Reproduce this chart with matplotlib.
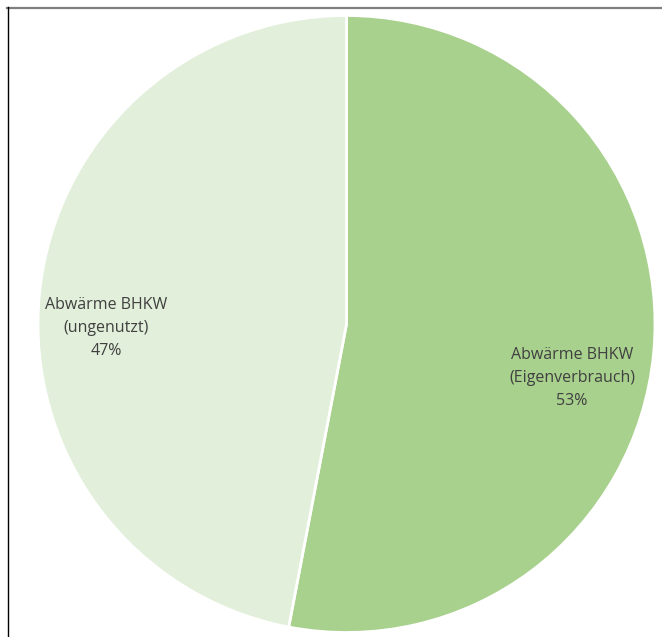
import matplotlib
matplotlib.use("Agg")
import matplotlib.pyplot as plt
from matplotlib.lines import Line2D

labels = ["Abwärme BHKW\n(Eigenverbrauch)", "Abwärme BHKW\n(ungenutzt)"]
shares = [53, 47]
colors = ["#A9D18E", "#E2EFDA"]
label_pos = [(0.731, -0.175), (-0.78, -0.013)]

W, H = 662, 637
fig = plt.figure(figsize=(W / 100, H / 100), dpi=100)
fig.patch.set_facecolor("white")

# pie area: radius 308.5 px, centred at (346.5, 324) from top-left
r_px, cx, cy = 308.5, 346.5, 324
ax = fig.add_axes([(cx - r_px) / W, (H - cy - r_px) / H, 2 * r_px / W, 2 * r_px / H])
ax.pie(shares, colors=colors, startangle=90, counterclock=False, radius=1,
       wedgeprops=dict(edgecolor="white", linewidth=2))
ax.set_xlim(-1, 1)
ax.set_ylim(-1, 1)
ax.set_aspect("equal")
ax.axis("off")

for lab, val, (x, y) in zip(labels, shares, label_pos):
    ax.text(x, y, f"{lab}\n{val}%", ha="center", va="center", fontsize=11.5,
            color="#404040", family="Open Sans", linespacing=1.55)

# frame lines on top and left
fig.add_artist(Line2D([7 / W, 1], [1 - 7.5 / H, 1 - 7.5 / H], color="#7f7f7f", lw=1.6,
                      transform=fig.transFigure))
fig.add_artist(Line2D([7.5 / W, 7.5 / W], [0, 1 - 7 / H], color="black", lw=1,
                      transform=fig.transFigure))

fig.savefig("out.png", dpi=100)
